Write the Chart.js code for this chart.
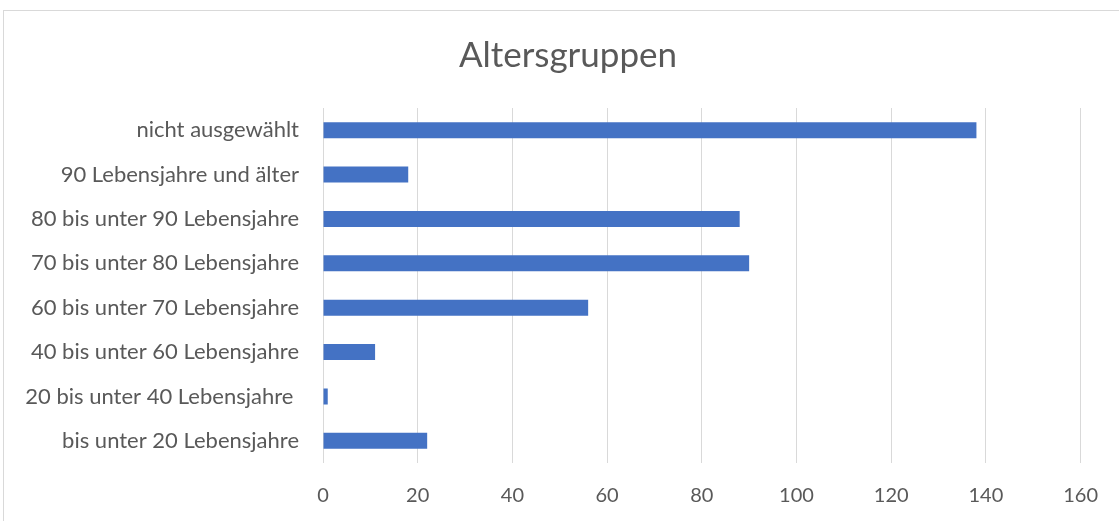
<!DOCTYPE html>
<html>
<head>
<meta charset="utf-8">
<script src="https://cdn.jsdelivr.net/npm/chart.js@4"></script>
<style>
  html, body { margin: 0; padding: 0; background: #fff; }
  #wrap { position: relative; width: 1119px; height: 521px; overflow: hidden; }
  #frame { position: absolute; left: 3px; top: 10px; width: 1130px; height: 530px; border: 1px solid #d9d9d9; box-sizing: border-box; }
  canvas { position: absolute; left: 0; top: 0; }
</style>
</head>
<body>
<div id="wrap">
  <div id="frame"></div>
  <canvas id="chart" width="1119" height="521"></canvas>
</div>
<script>
  const categories = [
    'nicht ausgewählt',
    '90 Lebensjahre und älter',
    '80 bis unter 90 Lebensjahre',
    '70 bis unter 80 Lebensjahre',
    '60 bis unter 70 Lebensjahre',
    '40 bis unter 60 Lebensjahre',
    '20 bis unter 40 Lebensjahre ',
    'bis unter 20 Lebensjahre'
  ];
  const counts = [138, 18, 88, 90, 56, 11, 1, 22];
  const xTicks = [0, 20, 40, 60, 80, 100, 120, 140, 160];
  const chartTitle = 'Altersgruppen';

  const textColor = '#595959';
  const fontFamily = 'Lato, "Open Sans", sans-serif';

  // title is centred on the frame, not on the plot, so draw it ourselves
  const frameTitle = {
    id: 'frameTitle',
    afterDraw(chart) {
      const c = chart.ctx;
      c.save();
      c.font = `35px ${fontFamily}`;
      c.fillStyle = textColor;
      c.textAlign = 'center';
      c.textBaseline = 'middle';
      c.fillText(chartTitle, 568, 56);
      c.restore();
    }
  };

  const ctx = document.getElementById('chart').getContext('2d');
  new Chart(ctx, {
    type: 'bar',
    data: {
      labels: categories,
      datasets: [{
        label: chartTitle,
        data: counts,
        backgroundColor: '#4472c4',
        barPercentage: 0.72,
        categoryPercentage: 0.5
      }]
    },
    options: {
      indexAxis: 'y',
      responsive: false,
      animation: false,
      layout: { padding: { left: 0, right: 36, top: 108, bottom: 0 } },
      plugins: {
        legend: { display: false },
        tooltip: { enabled: false },
        title: { display: false }
      },
      scales: {
        x: {
          min: 0,
          max: 160,
          afterBuildTicks: scale => { scale.ticks = xTicks.map(v => ({ value: v })); },
          grid: { color: '#d9d9d9', lineWidth: 1, drawTicks: false },
          border: { display: false },
          ticks: { color: textColor, font: { family: fontFamily, size: 20 }, padding: 21 },
          afterFit: scale => { scale.height = 58; }
        },
        y: {
          grid: { display: false, drawTicks: false },
          border: { display: false },
          ticks: { color: textColor, font: { family: fontFamily, size: 22 }, padding: 24, autoSkip: false },
          afterFit: scale => { scale.width = 323; }
        }
      }
    },
    plugins: [frameTitle]
  });
</script>
</body>
</html>
